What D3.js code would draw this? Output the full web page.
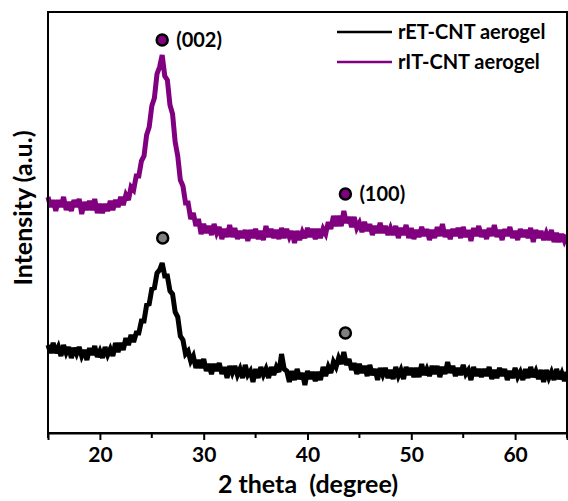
<!DOCTYPE html>
<html>
<head>
<meta charset="utf-8">
<script src="https://cdn.jsdelivr.net/npm/d3@7"></script>
<style>
  html, body { margin: 0; padding: 0; background: #fff; }
  svg { display: block; }
  text { font-family: Lato, "Open Sans", sans-serif; font-weight: bold; fill: #000; }
</style>
</head>
<body>
<svg id="chart" width="568" height="501"></svg>
<script>
// XRD scan grid: 2θ from 15° to 65° in 0.25° steps
const twoTheta = d3.range(0, 201).map(i => 15 + i * 0.25);

// rET-CNT aerogel intensity (a.u.), one value per grid point
const rET = [
  88,80,90,80, 86,77,88,80, 86,75,85,79, 86,77,83,73, 85,78,87,76,
  82,75,86,78, 84,77,90,81, 90,83,95,88, 98,91,100,100, 112,112,128,129,
  144,145,160,163, 170,157,157,142, 139,121,116,97, 93,79,82,72, 77,65,73,65,
  74,62,69,59, 69,62,70,59, 66,55,67,60, 67,58,64,55, 68,58,62,51,
  64,55,66,58, 64,55,66,58, 66,61,79,64, 62,51,62,53, 64,54,60,48,
  62,54,61,52, 61,53,66,57, 66,60,71,66, 75,69,81,68, 74,63,70,59,
  69,60,67,57, 68,58,64,53, 65,58,65,55, 63,54,66,57, 63,54,66,58,
  65,56,65,56, 69,58,64,57, 67,59,67,56, 66,59,71,60, 67,57,65,58,
  68,59,63,53, 66,57,64,56, 64,57,66,54, 63,55,65,57, 64,53,62,55,
  65,56,61,53, 64,55,66,56, 62,54,63,51, 63,55,61,53, 64,54,60,52,
  61
];

// rIT-CNT aerogel intensity (a.u.), offset above rET
const rIT = [
  236,226,233,222, 233,226,236,223, 231,222,233,226, 234,219,231,223, 232,223,234,220,
  229,220,229,222, 232,223,233,226, 236,228,238,233, 246,243,257,257, 272,277,298,306,
  327,335,359,366, 378,357,353,328, 319,291,277,253, 247,230,230,214, 220,207,214,199,
  209,200,207,198, 209,200,206,194, 204,196,208,196, 205,194,202,195, 203,192,203,195,
  204,194,202,193, 207,196,204,195, 203,194,205,195, 204,196,202,190, 202,193,201,195,
  205,196,204,194, 204,195,204,199, 211,204,217,207, 217,207,222,210, 216,206,216,205,
  210,201,211,202, 209,198,207,200, 210,200,207,198, 205,198,207,195, 205,198,208,195,
  205,194,203,196, 206,197,204,193, 203,195,206,197, 209,196,203,194, 204,197,205,195,
  206,196,203,192, 205,197,207,196, 203,194,205,197, 208,196,203,193, 204,197,206,195,
  202,193,204,196, 203,195,205,191, 203,195,202,193, 200,193,203,191, 200,191,199,192,
  198
];

// Reflection markers: [2θ, intensity] for each pattern
const rITPeaks = [[26.0, 393], [43.65, 239]];
const rETPeaks = [[26.05, 195], [43.65, 100]];
const peakLabels = ["(002)", "(100)"];

const seriesNames = ["rET-CNT aerogel", "rIT-CNT aerogel"];
const seriesColors = ["#000000", "#800080"];

const xTicks = [20, 30, 40, 50, 60];
const xMinorTicks = [15, 25, 35, 45, 55, 65];

const svg = d3.select("#chart");
const margin = { left: 48, right: 1, top: 12, bottom: 68 };
const W = 568, H = 501;

const x = d3.scaleLinear().domain([15, 65]).range([margin.left, W - margin.right]);
const y = d3.scaleLinear().domain([0, 421]).range([H - margin.bottom, margin.top]);

const line = d3.line().x(d => x(d[0])).y(d => y(d[1]));

// Patterns (heavy stroke renders the noisy scan as a dense band)
[rET, rIT].forEach((vals, k) => {
  svg.append("path")
    .datum(twoTheta.map((t, i) => [t, vals[i]]))
    .attr("d", line)
    .attr("fill", "none")
    .attr("stroke", seriesColors[k])
    .attr("stroke-width", 5)
    .attr("stroke-linejoin", "miter")
    .attr("stroke-miterlimit", 3);
});

// Frame
svg.append("rect")
  .attr("x", x(15)).attr("y", y(421))
  .attr("width", x(65) - x(15)).attr("height", y(0) - y(421))
  .attr("fill", "none").attr("stroke", "#000").attr("stroke-width", 2);

// Bottom axis
const gx = svg.append("g").attr("transform", `translate(0,${y(0)})`);
gx.call(d3.axisBottom(x).tickValues(xTicks).tickSize(7).tickPadding(7).tickFormat(d3.format("d")));
gx.selectAll(".tick text").attr("font-size", 21).attr("font-family", "Lato, sans-serif").attr("font-weight", "bold");
gx.selectAll(".tick line").attr("stroke-width", 2);
gx.select(".domain").attr("stroke-width", 2);
gx.selectAll(".minor").data(xMinorTicks).enter().append("line")
  .attr("x1", d => x(d)).attr("x2", d => x(d))
  .attr("y1", 0).attr("y2", 5)
  .attr("stroke", "#000").attr("stroke-width", 2);

// Axis titles
svg.append("text")
  .attr("x", 308).attr("y", 493)
  .attr("text-anchor", "middle").attr("font-size", 25)
  .attr("xml:space", "preserve")
  .text("2 theta  (degree)");

svg.append("text")
  .attr("transform", "translate(32,208) rotate(-90)")
  .attr("text-anchor", "middle").attr("font-size", 25)
  .text("Intensity (a.u.)");

// Peak markers
const drawPeaks = (peaks, fill, labels) => {
  peaks.forEach((p, i) => {
    svg.append("circle")
      .attr("cx", x(p[0])).attr("cy", y(p[1])).attr("r", 5.5)
      .attr("fill", fill).attr("stroke", "#000").attr("stroke-width", 2.5);
    if (labels) {
      svg.append("text")
        .attr("x", x(p[0]) + 14).attr("y", y(p[1]) + 7)
        .attr("font-size", 20)
        .text(labels[i]);
    }
  });
};
drawPeaks(rITPeaks, "#800080", peakLabels);
drawPeaks(rETPeaks, "#808080", null);

// Legend
const lg = svg.append("g");
seriesNames.forEach((name, i) => {
  const ly = 32 + i * 30;
  lg.append("line")
    .attr("x1", 337).attr("x2", 392).attr("y1", ly).attr("y2", ly)
    .attr("stroke", seriesColors[i]).attr("stroke-width", 2.5);
  lg.append("text")
    .attr("x", 398).attr("y", ly + 7)
    .attr("font-size", 20)
    .text(name);
});
</script>
</body>
</html>
